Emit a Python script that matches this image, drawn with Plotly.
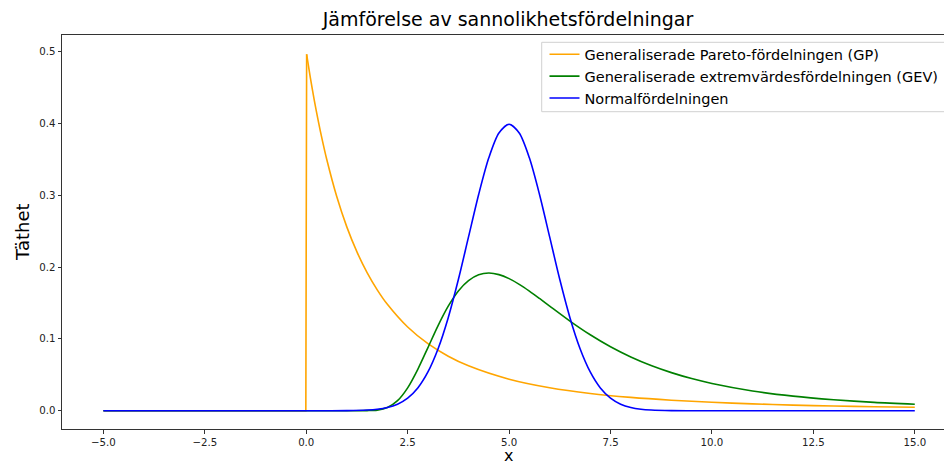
import plotly.graph_objects as go

# ---- data (density values) ----
gp_base_x = [-5.0, -0.01, 0.01]
gp_base_y = [0.0, 0.0, 0.4963]
gp_x = [0.01, 0.1, 0.2, 0.3, 0.4, 0.5, 0.75, 1.0, 1.25, 1.5, 1.75, 2.0, 2.5, 3.0, 3.5,
        4.0, 5.0, 6.0, 7.0, 8.0, 9.0, 10.0, 11.0, 12.0, 13.0, 14.0, 15.0]
gp_y = [0.4963, 0.4643, 0.4319, 0.4025, 0.3757, 0.3512, 0.2986, 0.2560, 0.2211, 0.1923,
        0.1683, 0.1481, 0.1165, 0.0933, 0.0759, 0.0625, 0.0439, 0.0320, 0.0240, 0.0185,
        0.0146, 0.0117, 0.0095, 0.0078, 0.0065, 0.0055, 0.0047]

gev_x = [-5.0, -2.5, 0.0, 1.0, 1.5, 1.75, 2.0, 2.25, 2.5, 2.75, 3.0, 3.25, 3.5, 3.75, 4.0,
         4.25, 4.5, 4.75, 5.0, 5.25, 5.5, 5.75, 6.0, 6.5, 7.0, 7.5, 8.0, 8.5, 9.0, 9.5,
         10.0, 11.0, 12.0, 13.0, 14.0, 15.0]
gev_y = [0.0, 0.0, 0.0, 0.0, 0.0001, 0.0008, 0.0043, 0.0139, 0.0318, 0.0576, 0.0879, 0.1185,
         0.1455, 0.1668, 0.1812, 0.1893, 0.1917, 0.1895, 0.1839, 0.1760, 0.1666, 0.1563,
         0.1457, 0.1248, 0.1057, 0.0890, 0.0748, 0.0629, 0.0530, 0.0447, 0.0379, 0.0275,
         0.0203, 0.0153, 0.0116, 0.0090]

norm_x = [-5.0, -2.5, 0.0, 0.5, 1.0, 1.5, 1.75, 2.0, 2.25, 2.5, 2.75, 3.0, 3.25, 3.5, 3.75,
          4.0, 4.25, 4.5, 4.75, 5.0, 5.25, 5.5, 5.75, 6.0, 6.25, 6.5, 6.75, 7.0, 7.25,
          7.5, 7.75, 8.0, 8.25, 8.5, 9.0, 9.5, 10.0, 12.5, 15.0]
norm_y = [0.0, 0.0, 0.0, 0.0, 0.0001, 0.0009, 0.0020, 0.0044, 0.0091, 0.0175, 0.0317,
          0.0540, 0.0863, 0.1295, 0.1826, 0.2420, 0.3011, 0.3521, 0.3867, 0.3989, 0.3867,
          0.3521, 0.3011, 0.2420, 0.1826, 0.1295, 0.0863, 0.0540, 0.0317, 0.0175, 0.0091,
          0.0044, 0.0020, 0.0009, 0.0001, 0.0, 0.0, 0.0, 0.0]

x_ticks = [-5.0, -2.5, 0.0, 2.5, 5.0, 7.5, 10.0, 12.5, 15.0]
x_tick_text = ["\u22125.0", "\u22122.5", "0.0", "2.5", "5.0", "7.5", "10.0", "12.5", "15.0"]
y_ticks = [0.0, 0.1, 0.2, 0.3, 0.4, 0.5]
y_tick_text = ["0.0", "0.1", "0.2", "0.3", "0.4", "0.5"]

names = ["Generaliserade Pareto-fördelningen (GP)",
         "Generaliserade extremvärdesfördelningen (GEV)",
         "Normalfördelningen"]
colors = ["#FFA500", "#008000", "#0000FF"]

FONT = "DejaVu Sans"
LW = 1.6

fig = go.Figure()
fig.add_trace(go.Scatter(x=gp_base_x, y=gp_base_y, mode="lines", name=names[0],
                         line=dict(color=colors[0], width=LW), legendgroup="gp",
                         showlegend=False, hoverinfo="skip"))
fig.add_trace(go.Scatter(x=gp_x, y=gp_y, mode="lines", name=names[0],
                         line=dict(color=colors[0], width=LW, shape="spline", smoothing=0.8),
                         legendgroup="gp"))
fig.add_trace(go.Scatter(x=gev_x, y=gev_y, mode="lines", name=names[1],
                         line=dict(color=colors[1], width=LW, shape="spline", smoothing=0.8),
                         legendgroup="gev"))
fig.add_trace(go.Scatter(x=norm_x, y=norm_y, mode="lines", name=names[2],
                         line=dict(color=colors[2], width=LW, shape="spline", smoothing=0.8),
                         legendgroup="norm"))

W, H = 944, 466
L, R, T, B = 62, 0, 35, 37
pw = W - L - R
ph = H - T - B


def px_x(p):
    return (p - L) / pw


def px_y(p):
    return (H - B - p) / ph


fig.update_layout(
    width=W, height=H,
    margin=dict(l=L, r=R, t=T, b=B),
    paper_bgcolor="white", plot_bgcolor="white",
    font=dict(family=FONT, color="#222222"),
    title=dict(text="Jämförelse av sannolikhetsfördelningar",
               font=dict(family=FONT, size=19, color="#000000"),
               x=px_x(508), xref="paper", xanchor="center",
               y=1 - 19 / H, yref="container", yanchor="middle"),
    showlegend=True,
    legend=dict(x=px_x(544.5), y=px_y(38.3), xanchor="left", yanchor="top",
                bgcolor="rgba(0,0,0,0)", borderwidth=0,
                font=dict(family=FONT, size=14.5, color="#000000"),
                traceorder="grouped", tracegroupgap=0, itemwidth=30),
    xaxis=dict(range=[-6.02, 15.72], tickvals=x_ticks, ticktext=x_tick_text,
               showgrid=False, zeroline=False, showline=True, linecolor="#333333",
               linewidth=1, mirror=True, ticks="outside", ticklen=3.5, tickwidth=1,
               tickcolor="#333333", tickfont=dict(family=FONT, size=10.2, color="#222222")),
    yaxis=dict(range=[-0.0255, 0.5232], tickvals=y_ticks, ticktext=y_tick_text,
               showgrid=False, zeroline=False, showline=True, linecolor="#333333",
               linewidth=1, mirror=False, ticks="outside", ticklen=3.5, tickwidth=1,
               tickcolor="#333333", tickfont=dict(family=FONT, size=10.2, color="#222222")),
    shapes=[
        dict(type="rect", xref="paper", yref="paper", layer="above",
             x0=px_x(541.7), x1=px_x(990), y0=px_y(111.7), y1=px_y(42.3),
             fillcolor="rgba(255,255,255,0.8)", line=dict(color="#d0d0d0", width=1)),
    ],
    annotations=[
        dict(text="Täthet", xref="paper", yref="paper", x=px_x(22), y=0.5,
             xanchor="center", yanchor="middle", textangle=-90, showarrow=False,
             font=dict(family=FONT, size=18, color="#000000")),
        dict(text="x", xref="paper", yref="paper", x=px_x(508), y=px_y(466.5),
             xanchor="center", yanchor="bottom", showarrow=False, borderpad=0,
             font=dict(family=FONT, size=16, color="#000000")),
    ],
)

fig.write_html("out.html")
